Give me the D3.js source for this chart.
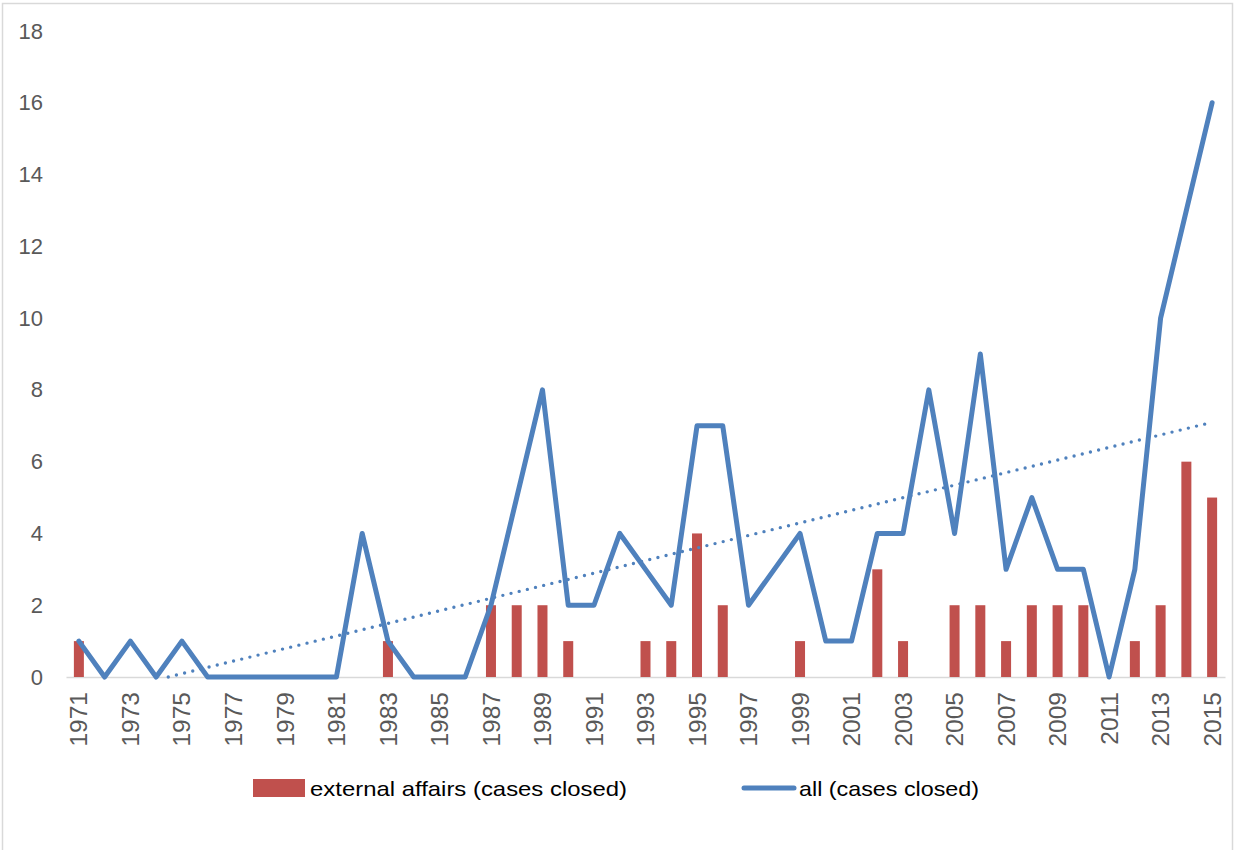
<!DOCTYPE html>
<html>
<head>
<meta charset="utf-8">
<script src="https://cdn.jsdelivr.net/npm/d3@7"></script>
<style>
  html, body { margin: 0; padding: 0; background: #fff; }
  svg { display: block; }
  text { font-family: "Liberation Sans", Arial, sans-serif; fill: #595959; }
</style>
</head>
<body>
<svg id="chart" width="1234" height="850"></svg>
<script>
const years = d3.range(1971, 2016);
const externalAffairs = [1,0,0,0,0,0,0,0,0,0,0,0,1,0,0,0,2,2,2,1,0,0,1,1,4,2,0,0,1,0,0,3,1,0,2,2,1,2,2,2,0,1,2,6,5];
const allCases = [1,0,1,0,1,0,0,0,0,0,0,4,1,0,0,0,2,5,8,2,2,4,3,2,7,7,2,3,4,1,1,4,4,8,4,9,3,5,3,3,0,3,10,13,16];
const yTicks = [0,2,4,6,8,10,12,14,16,18];
const xTickLabels = years.filter((y, i) => i % 2 === 0);
const seriesNames = ["external affairs (cases closed)", "all (cases closed)"];

const svg = d3.select("#chart");
const plot = {left: 66, right: 1225, top: 31, bottom: 677};

// chart border
svg.append("rect").attr("x", 2.5).attr("y", 3.5).attr("width", 1230).attr("height", 860)
  .attr("fill", "none").attr("stroke", "#d9d9d9").attr("stroke-width", 1.5);

const x = d3.scaleBand().domain(years).range([plot.left, plot.right]).padding(0);
const y = d3.scaleLinear().domain([0, 18]).range([plot.bottom, plot.top]);
const cx = d => x(d) + x.bandwidth() / 2;

// y axis labels
const yAxis = d3.axisLeft(y).tickValues(yTicks).tickSize(0).tickPadding(0);
const gy = svg.append("g").attr("transform", "translate(43,0)").call(yAxis);
gy.select(".domain").remove();
gy.selectAll("text").style("font-size", "22px").style("fill", "#595959")
  .style("font-family", "'Liberation Sans', Arial, sans-serif");

// x axis
const xAxis = d3.axisBottom(x).tickValues(xTickLabels).tickSize(0).tickPadding(0);
const gx = svg.append("g").attr("transform", `translate(0,${plot.bottom})`).call(xAxis);
gx.select(".domain").attr("stroke", "#d9d9d9").attr("stroke-width", 1.5);
gx.selectAll("text")
  .style("font-size", "24.5px").style("fill", "#595959")
  .style("font-family", "'Liberation Sans', Arial, sans-serif")
  .attr("transform", "rotate(-90)")
  .attr("text-anchor", "end")
  .attr("x", -15).attr("y", 0).attr("dy", "0.35em");

// bars
const barW = 10;
svg.append("g").selectAll("rect").data(years.map((yr, i) => ({yr, v: externalAffairs[i]})).filter(d => d.v > 0))
  .join("rect")
  .attr("x", d => cx(d.yr) - barW / 2)
  .attr("y", d => y(d.v))
  .attr("width", barW)
  .attr("height", d => y(0) - y(d.v))
  .attr("fill", "#C0504D");

// linear trendline of all series (least squares, like the spreadsheet trendline)
const idx = years.map((_, i) => i + 1);
const mx = d3.mean(idx), my = d3.mean(allCases);
const slope = d3.sum(idx, (xi, i) => (xi - mx) * (allCases[i] - my)) / d3.sum(idx, xi => (xi - mx) ** 2);
const icpt = my - slope * mx;
const xl = d3.scaleLinear().domain([1, years.length]).range([cx(years[0]), cx(years[years.length - 1])]);
let t0 = 1;
if (icpt + slope * t0 < 0) t0 = -icpt / slope;
svg.append("line")
  .attr("x1", xl(t0)).attr("y1", y(icpt + slope * t0))
  .attr("x2", xl(years.length)).attr("y2", y(icpt + slope * years.length))
  .attr("stroke", "#4F81BD").attr("stroke-width", 3.4)
  .attr("stroke-linecap", "round").attr("stroke-dasharray", "0 8.4");

// line
const line = d3.line().x((d, i) => cx(years[i])).y(d => y(d));
svg.append("path").datum(allCases).attr("d", line)
  .attr("fill", "none").attr("stroke", "#4F81BD").attr("stroke-width", 5)
  .attr("stroke-linejoin", "round").attr("stroke-linecap", "round");

// legend
const lg = svg.append("g");
lg.append("rect").attr("x", 253).attr("y", 779).attr("width", 52).attr("height", 18).attr("fill", "#C0504D");
lg.append("text").attr("x", 310).attr("y", 796).text(seriesNames[0])
  .style("font-size", "21px").style("fill", "#000").attr("textLength", 317).attr("lengthAdjust", "spacingAndGlyphs");
lg.append("line").attr("x1", 744).attr("x2", 794).attr("y1", 788).attr("y2", 788)
  .attr("stroke", "#4F81BD").attr("stroke-width", 5).attr("stroke-linecap", "round");
lg.append("text").attr("x", 799).attr("y", 796).text(seriesNames[1])
  .style("font-size", "21px").style("fill", "#000").attr("textLength", 180).attr("lengthAdjust", "spacingAndGlyphs");
</script>
</body>
</html>
